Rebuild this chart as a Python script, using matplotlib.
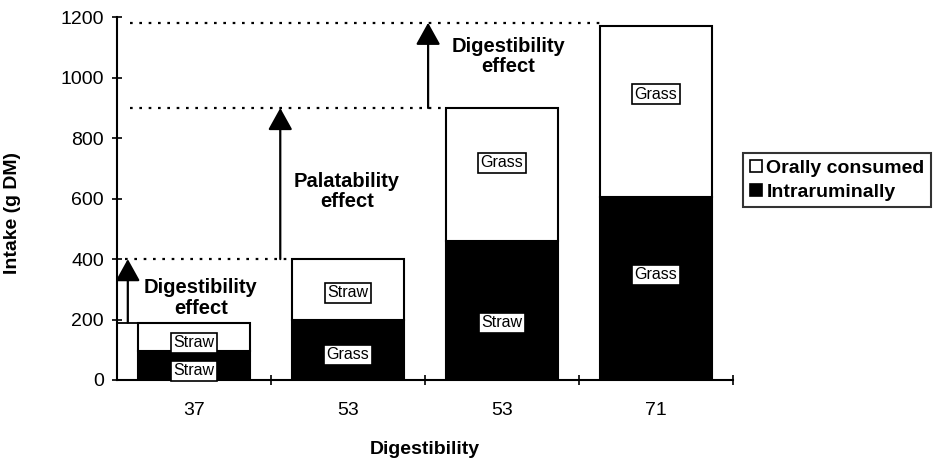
import numpy as np
import matplotlib
matplotlib.use("Agg")
import matplotlib.pyplot as plt
from matplotlib.patches import Patch

plt.rcParams["font.family"] = ["Liberation Sans", "DejaVu Sans"]

# Data
categories = ["37", "53", "53", "71"]
intraruminal = [95, 200, 460, 605]
orally = [95, 200, 440, 565]
oral_labels = ["Straw", "Straw", "Grass", "Grass"]
intra_labels = ["Straw", "Grass", "Straw", "Grass"]
# y positions of the boxed labels inside the bars
oral_label_y = [123, 288, 719, 945]
intra_label_y = [30, 83, 189, 348]

totals = [a + b for a, b in zip(intraruminal, orally)]
x = np.arange(len(categories))
width = 0.73

fig = plt.figure(figsize=(9.37, 4.62), dpi=100)
ax = fig.add_axes([0.1249, 0.1775, 0.6574, 0.785])

ax.bar(x, intraruminal, width, color="black", edgecolor="black", linewidth=1.5)
ax.bar(x, orally, width, bottom=intraruminal, color="white",
       edgecolor="black", linewidth=1.5)

box = dict(boxstyle="square,pad=0.15", fc="white", ec="black", lw=1.2)
for i in range(len(x)):
    ax.text(x[i], oral_label_y[i], oral_labels[i], ha="center", va="center",
            fontsize=11.5, bbox=box)
    ax.text(x[i], intra_label_y[i], intra_labels[i], ha="center", va="center",
            fontsize=11.5, bbox=box)

# Reference lines for the effects
dot = (0, (1.2, 3.0))
ax.plot([-0.5, x[0] - width / 2], [totals[0]] * 2, color="black", lw=1.3)
ax.plot([-0.45, x[1] - width / 2], [totals[1]] * 2, color="black", lw=1.6, ls=dot)
ax.plot([-0.415, x[2] - width / 2], [totals[2]] * 2, color="black", lw=1.6, ls=dot)
ax.plot([-0.415, x[3] - width / 2], [totals[3] + 12] * 2, color="black", lw=1.6, ls=dot)

arrow = dict(arrowstyle="-|>,head_length=0.9,head_width=0.5", color="black",
             lw=1.6, mutation_scale=15, shrinkA=0, shrinkB=0)
ax.annotate("", xy=(-0.43, totals[1]), xytext=(-0.43, totals[0]), arrowprops=arrow)
ax.annotate("", xy=(0.56, totals[2]), xytext=(0.56, totals[1]), arrowprops=arrow)
ax.annotate("", xy=(1.52, totals[3] + 12), xytext=(1.52, totals[2]), arrowprops=arrow)

effect_font = dict(ha="center", va="center", fontsize=14.5, fontweight="bold",
                   linespacing=1.1)
ax.text(0.045, 272, "Digestibility\neffect", **effect_font)
ax.text(0.994, 623, "Palatability\neffect", **effect_font)
ax.text(2.04, 1070, "Digestibility\neffect", **effect_font)

ax.set_xlim(-0.5, 3.5)
ax.set_ylim(0, 1200)
ax.set_yticks(np.arange(0, 1201, 200))
ax.set_xticks([0.5, 1.5, 2.5, 3.5])
ax.set_xticklabels([])
ax.set_xticks(x, minor=True)
ax.set_xticklabels(categories, minor=True)
ax.tick_params(axis="x", which="minor", length=0, pad=16, labelsize=14)
ax.tick_params(axis="x", which="major", direction="inout", length=7, width=1.2)
ax.tick_params(axis="y", direction="inout", length=7, width=1.2, pad=6, labelsize=14)

for s in ["top", "right"]:
    ax.spines[s].set_visible(False)
for s in ["left", "bottom"]:
    ax.spines[s].set_linewidth(1.5)

ax.set_ylabel("Intake (g DM)", fontsize=14, fontweight="bold")
ax.yaxis.set_label_coords(-0.156, 0.461)
ax.set_xlabel("Digestibility", fontsize=14, fontweight="bold")
ax.xaxis.set_label_coords(0.5, -0.193)
ax.xaxis.label.set_va("center")

handles = [Patch(facecolor="white", edgecolor="black", lw=1.2),
           Patch(facecolor="black", edgecolor="black", lw=1.2)]
leg = fig.legend(handles, ["Orally consumed", "Intraruminally"],
                 loc="upper left", bbox_to_anchor=(0.793, 0.669),
                 frameon=True, fancybox=False, borderaxespad=0,
                 handlelength=0.6, handleheight=0.6, handletextpad=0.25,
                 labelspacing=0.35, borderpad=0.35,
                 prop={"weight": "bold", "size": 14})
leg.get_frame().set_edgecolor("black")
leg.get_frame().set_linewidth(1.5)

plt.savefig("out.png", dpi=100)
